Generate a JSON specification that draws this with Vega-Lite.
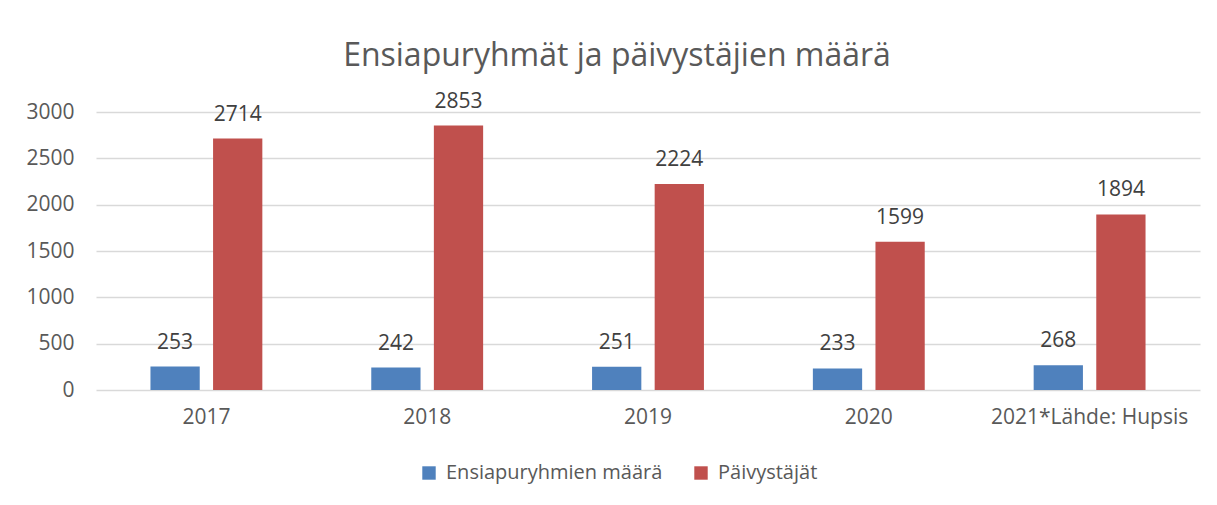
{
  "$schema": "https://vega.github.io/schema/vega-lite/v6.json",
  "width": 1104,
  "height": 278,
  "autosize": "none",
  "padding": {"left": 96, "top": 112, "right": 17, "bottom": 115},
  "background": "white",
  "config": {
    "view": {"stroke": null},
    "font": "Open Sans"
  },
  "title": {
    "text": "Ensiapuryhmät ja päivystäjien määrä",
    "fontSize": 32,
    "fontWeight": "normal",
    "color": "#595959",
    "font": "Open Sans",
    "anchor": "middle",
    "offset": 18,
    "dx": -31
  },
  "data": {
    "values": [
      {"vuosi": "2017", "sarja": "Ensiapuryhmien määrä", "arvo": 253},
      {"vuosi": "2017", "sarja": "Päivystäjät", "arvo": 2714},
      {"vuosi": "2018", "sarja": "Ensiapuryhmien määrä", "arvo": 242},
      {"vuosi": "2018", "sarja": "Päivystäjät", "arvo": 2853},
      {"vuosi": "2019", "sarja": "Ensiapuryhmien määrä", "arvo": 251},
      {"vuosi": "2019", "sarja": "Päivystäjät", "arvo": 2224},
      {"vuosi": "2020", "sarja": "Ensiapuryhmien määrä", "arvo": 233},
      {"vuosi": "2020", "sarja": "Päivystäjät", "arvo": 1599},
      {"vuosi": "2021*Lähde: Hupsis", "sarja": "Ensiapuryhmien määrä", "arvo": 268},
      {"vuosi": "2021*Lähde: Hupsis", "sarja": "Päivystäjät", "arvo": 1894}
    ]
  },
  "encoding": {
    "x": {
      "field": "vuosi",
      "type": "nominal",
      "sort": null,
      "scale": {"paddingInner": 0, "paddingOuter": 0},
      "axis": {
        "title": null,
        "labelAngle": 0,
        "domain": false,
        "ticks": false,
        "labelFontSize": 21,
        "labelColor": "#595959",
        "labelPadding": 16,
        "labelLimit": 0,
        "labelFont": "Open Sans"
      }
    },
    "xOffset": {
      "field": "sarja",
      "type": "nominal",
      "sort": ["Ensiapuryhmien määrä", "Päivystäjät"],
      "scale": {"paddingInner": 0.213, "paddingOuter": 0.87}
    },
    "y": {
      "field": "arvo",
      "type": "quantitative",
      "scale": {"domain": [0, 3000], "nice": false},
      "axis": {
        "title": null,
        "format": "d",
        "values": [0, 500, 1000, 1500, 2000, 2500, 3000],
        "domain": false,
        "ticks": false,
        "gridColor": "#d9d9d9",
        "gridWidth": 1.5,
        "labelFontSize": 21,
        "labelColor": "#595959",
        "labelPadding": 22,
        "labelFont": "Open Sans"
      }
    }
  },
  "layer": [
    {
      "mark": {"type": "bar"},
      "encoding": {
        "color": {
          "field": "sarja",
          "type": "nominal",
          "sort": ["Ensiapuryhmien määrä", "Päivystäjät"],
          "scale": {"domain": ["Ensiapuryhmien määrä", "Päivystäjät"], "range": ["#4F81BD", "#C0504D"]},
          "legend": {
            "title": null,
            "orient": "none",
            "direction": "horizontal",
            "legendX": 323,
            "legendY": 351,
            "symbolType": "square",
            "symbolSize": 180,
            "symbolStrokeWidth": 0,
            "labelFontSize": 20,
            "labelColor": "#595959",
            "labelFont": "Open Sans",
            "labelLimit": 0,
            "labelOffset": 7,
            "columnPadding": 28
          }
        }
      }
    },
    {
      "mark": {"type": "text", "baseline": "alphabetic", "dy": -18, "fontSize": 21, "color": "#404040", "font": "Open Sans"},
      "encoding": {
        "text": {"field": "arvo", "type": "quantitative"}
      }
    }
  ]
}
